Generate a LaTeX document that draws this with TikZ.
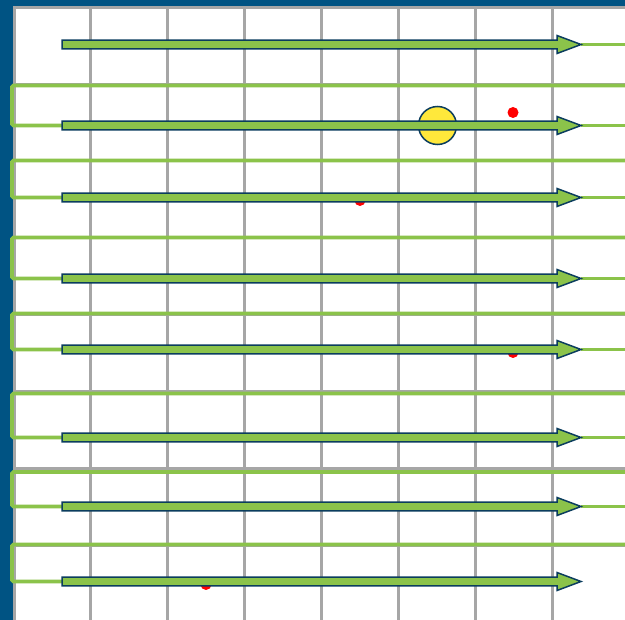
\documentclass[tikz,border=0pt]{standalone}
\usepackage{tikz}
\definecolor{bandblue}{HTML}{005383}
\definecolor{navy}{HTML}{0B3D5E}
\definecolor{leaf}{HTML}{8BC34A}
\definecolor{sun}{HTML}{FFE83B}
\definecolor{gridgray}{HTML}{A6A6A6}
\begin{document}
\begin{tikzpicture}[
  x=1pt, y=-1pt,
  fatarrow/.style={draw=navy, fill=leaf, line width=1.5pt, line join=miter},
  track/.style={leaf, line width=3.8pt, rounded corners=1.5pt},
  gridline/.style={gridgray, line width=2.5pt},
  dot/.style={circle, fill=red, inner sep=0pt, minimum size=11pt},
  spot/.style={circle, draw=navy, fill=sun, line width=1.5pt, inner sep=0pt, minimum size=38pt}
]
\useasboundingbox (0,0) rectangle (625,620);
% frame
\fill[bandblue] (0,0) rectangle (625,620);
\fill[white] (13,6) rectangle (625,620);
\coordinate (edge) at (625,0);
\coordinate (lft) at (12,0);
% grid
\foreach \gx in {14.5,90.5,167.5,244.5,321.5,398.5,475.5,552.5}
  \draw[gridline] (\gx,7.5) -- (\gx,620);
\foreach \gy in {7.5,84.5,160.5,237.5,314.5,391.5,468.5,545.5}
  \draw[gridline] (13,\gy) -- (625,\gy);
% arrow ends
\foreach \ya [count=\i] in {44.5,125.5,197.5,278.5,349.5,437.5,506.5,581.5} {
  \coordinate (tail\i) at (62,\ya);
  \coordinate (tip\i) at (581,\ya);
}
% return tracks
\foreach \yr [count=\i] in {85.5,160.5,237.5,313.5,393.5,472,544.5} {
  \pgfmathtruncatemacro\j{\i+1}
  \coordinate (back\i) at (625,\yr);
  \draw[track] (back\i) -- (back\i -| lft) |- (tail\j);
}
\foreach \i in {1,...,7}
  \draw[track] (tip\i) -- (tip\i -| edge);
% markers
\node[dot] (d1) at (513,112.5) {};
\node[dot] (d2) at (360,200.5) {};
\node[dot] (d3) at (513,352.5) {};
\node[dot] (d4) at (206,584.5) {};
\node[spot] (sp) at (437.5,125.5) {};
% fat arrows
\foreach \i in {1,...,8}
  \draw[fatarrow] (tail\i) -- ++(0,-4.3) -- ++(495,0) -- ++(0,-4.7)
    -- (tip\i) -- ++(-24,9) -- ++(0,-4.7) -- ++(-495,0) -- cycle;
\end{tikzpicture}
\end{document}
